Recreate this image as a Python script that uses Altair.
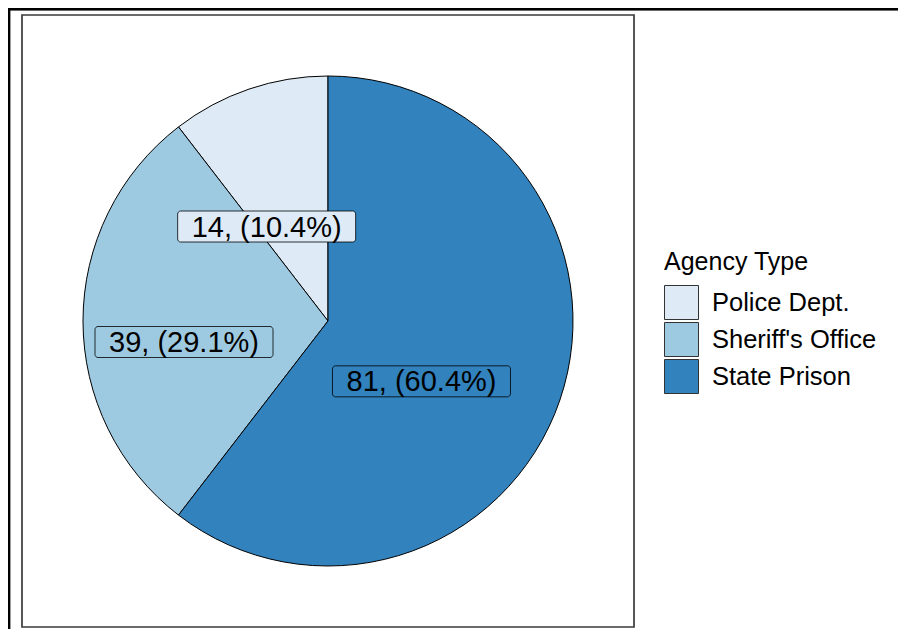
import altair as alt
import pandas as pd

categories = ["Police Dept.", "Sheriff's Office", "State Prison"]
counts = [14, 39, 81]
label_texts = ["14, (10.4%)", "39, (29.1%)", "81, (60.4%)"]
stack_order = [3, 2, 1]
colors = ["#DEEBF7", "#9ECAE1", "#3182BD"]

df = pd.DataFrame({
    "agency": categories,
    "n": counts,
    "label": label_texts,
    "ord": stack_order,
})

FONT = "Liberation Sans"
W = 612
H = 612
R = 245
LR = 122          # label radius
LCX, LCY = 284, 327  # label centre
BW, BH = 178, 31

color = alt.Color(
    "agency:N",
    scale=alt.Scale(domain=categories, range=colors),
    legend=alt.Legend(
        orient="none", legendX=642, legendY=235,
        title="Agency Type", titleFontSize=25, titleFont=FONT,
        titleFontWeight="normal", titleColor="black", titlePadding=10,
        labelFontSize=25.5, labelFont=FONT, labelColor="black",
        labelOffset=13, labelLimit=400,
        symbolType="square", symbolSize=1156, rowPadding=-4,
        symbolStrokeColor="#333333", symbolStrokeWidth=1,
        padding=0,
    ),
)

base = alt.Chart(df)

pie = base.mark_arc(radius=R, stroke="black", strokeWidth=1).encode(
    theta=alt.Theta("n:Q", stack=True),
    order=alt.Order("ord:Q"),
    color=color,
)

lab = base.transform_window(
    cum="sum(n)", sort=[alt.SortField("ord")], frame=[None, 0]
).transform_joinaggregate(
    total="sum(n)"
).transform_calculate(
    mid="(datum.cum - datum.n/2) / datum.total * 2 * PI",
).transform_calculate(
    lx=f"{LCX} + {LR} * sin(datum.mid)",
    ly=f"{LCY} - {LR} * cos(datum.mid)",
).transform_calculate(
    bx1=f"datum.lx - {BW/2}", bx2=f"datum.lx + {BW/2}",
    by1=f"datum.ly - {BH/2}", by2=f"datum.ly + {BH/2}",
)

boxes = lab.mark_rect(cornerRadius=3, stroke="black", strokeWidth=0.8).encode(
    x=alt.X("bx1:Q", scale=None, axis=None),
    x2="bx2:Q",
    y=alt.Y("by1:Q", scale=None, axis=None),
    y2="by2:Q",
    color=alt.Color("agency:N", scale=alt.Scale(domain=categories, range=colors), legend=None),
)

texts = lab.mark_text(fontSize=29, font=FONT, color="black", baseline="middle", align="center", dy=1).encode(
    x=alt.X("lx:Q", scale=None, axis=None),
    y=alt.Y("ly:Q", scale=None, axis=None),
    text="label:N",
)

frame_left = base.mark_rule(color="black", strokeWidth=2.3).encode(
    x=alt.value(-13), y=alt.value(-6), y2=alt.value(700)
)
frame_top = base.mark_rule(color="black", strokeWidth=2.3).encode(
    x=alt.value(-14), x2=alt.value(1000), y=alt.value(-6)
)

chart = alt.layer(pie, boxes, texts, frame_left, frame_top).properties(
    width=W, height=H,
    autosize="none",
    padding={"left": 14, "top": 7, "right": 264, "bottom": 2},
).configure_view(
    stroke="#3a3a3a", strokeWidth=1.7
)

chart.save("out.html", embed_options={"renderer": "svg", "actions": False})
